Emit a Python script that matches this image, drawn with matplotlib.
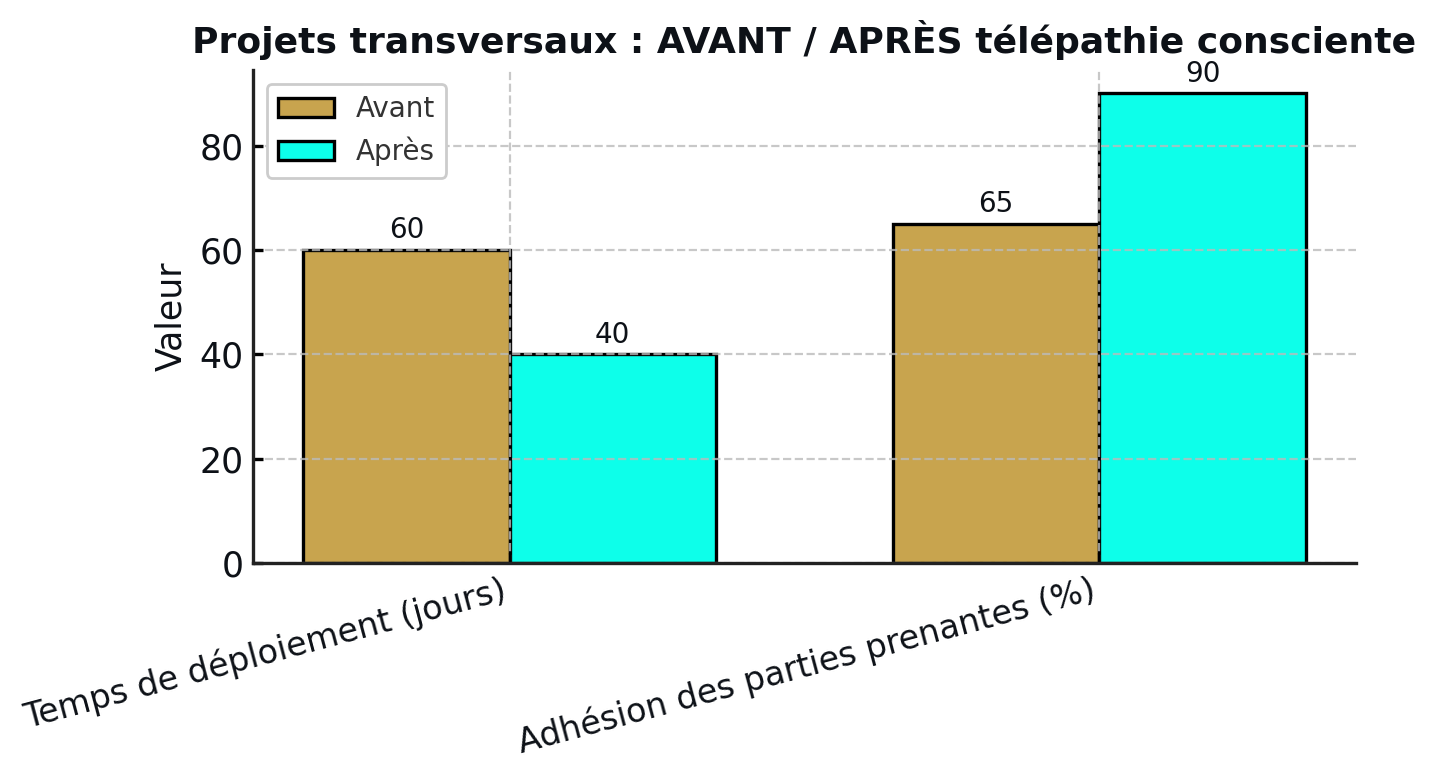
import matplotlib
matplotlib.use("Agg")
import matplotlib.pyplot as plt
import numpy as np

categories = ["Temps de déploiement (jours)", "Adhésion des parties prenantes (%)"]
avant = [60, 65]
apres = [40, 90]
series_labels = ["Avant", "Après"]
colors = ["#C8A44E", "#0DFFEA"]

txt = "#0d1117"
fig = plt.figure(figsize=(7.18, 3.9), dpi=200)
ax = fig.add_axes([253/1436, 1 - 563/780, (1356-253)/1436, (563-70)/780])
x = np.arange(len(categories))
w = 0.35
b1 = ax.bar(x - w/2, avant, w, label=series_labels[0], color=colors[0], edgecolor="black", linewidth=1.2)
b2 = ax.bar(x + w/2, apres, w, label=series_labels[1], color=colors[1], edgecolor="black", linewidth=1.2)
for bars in (b1, b2):
    for r in bars:
        ax.annotate(f"{r.get_height():.0f}", (r.get_x() + r.get_width()/2, r.get_height()),
                    xytext=(0, 2), textcoords="offset points", ha="center", va="bottom",
                    fontsize=10, color=txt)

ax.set_xticks(x)
ax.set_xticklabels(categories, rotation=15, ha="right", fontsize=12, color=txt)
ax.tick_params(axis="y", labelsize=12.5, labelcolor=txt, direction="in", width=1.2)
ax.tick_params(axis="x", direction="in")
ax.set_ylabel("Valeur", fontsize=12.5, color=txt)
ax.set_title("Projets transversaux : AVANT / APRÈS télépathie consciente", fontsize=13,
             fontweight="bold", color=txt)
ax.grid(True, linestyle="--", color="#bbbbbb", linewidth=0.8, alpha=0.8)
for s in ("top", "right"):
    ax.spines[s].set_visible(False)
for s in ("left", "bottom"):
    ax.spines[s].set_linewidth(1.2)
    ax.spines[s].set_color("#222222")
leg = ax.legend(loc="upper left", fontsize=10, labelcolor="#333333", framealpha=1, edgecolor="#cccccc")
fig.savefig("out.png", dpi=200)
